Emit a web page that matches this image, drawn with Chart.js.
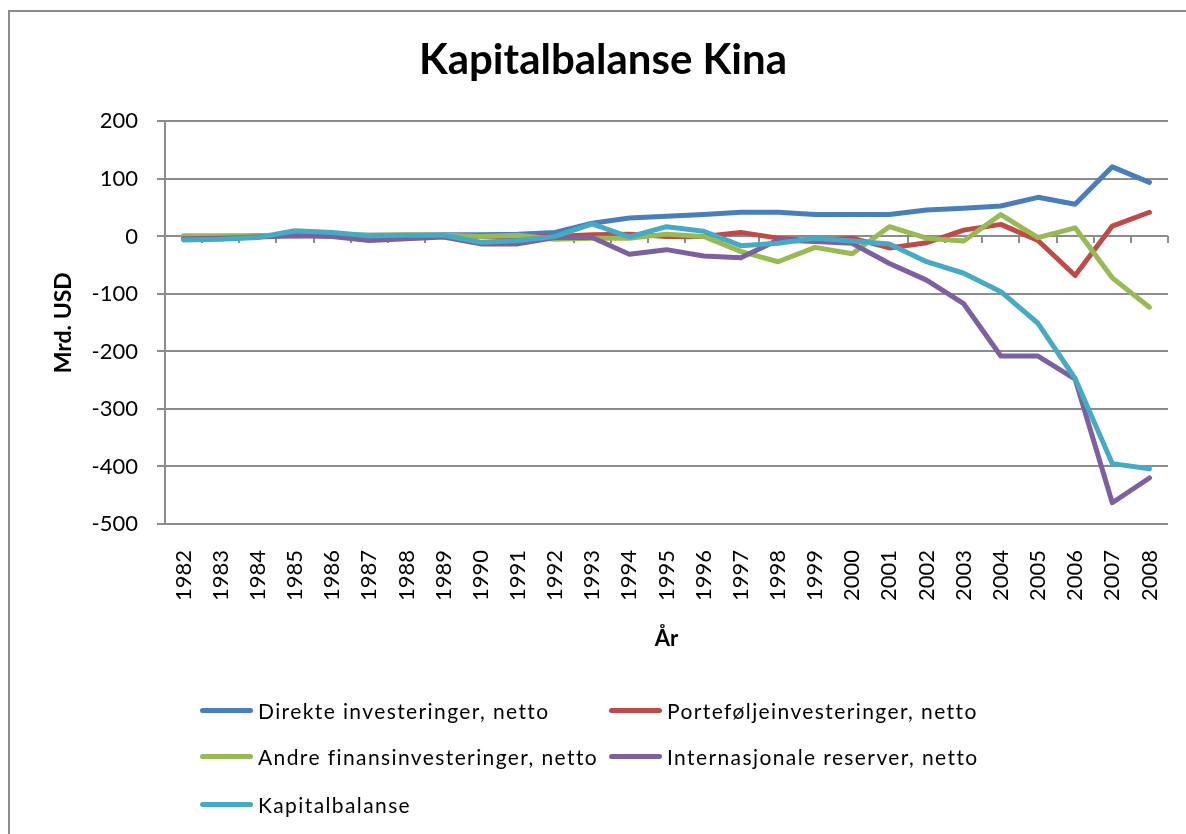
<!DOCTYPE html>
<html lang="no">
<head>
<meta charset="utf-8">
<title>Kapitalbalanse Kina</title>
<script src="https://cdn.jsdelivr.net/npm/chart.js@4.4.1/dist/chart.umd.min.js"></script>
<style>
    html, body {
        margin: 0;
        padding: 0;
        background: #ffffff;
        overflow: hidden;
    }
    #ramme {
        position: relative;
        width: 1186px;
        height: 834px;
    }
    #kant {
        position: absolute;
        left: 8px;
        top: 10px;
        width: 1300px;
        height: 900px;
        border-left: 2px solid #8c8c8c;
        border-top: 2px solid #8c8c8c;
    }
    #graf {
        position: absolute;
        left: 0;
        top: 0;
    }
    .forklaring {
        position: absolute;
        font-family: Lato, "Noto Sans", sans-serif;
        font-size: 21px;
        letter-spacing: 1.4px;
        color: #000;
        line-height: 24px;
        white-space: nowrap;
    }
    .forklaring .strek {
        position: absolute;
        left: 0;
        top: 9px;
        width: 53px;
        height: 5px;
        border-radius: 3px;
    }
    .forklaring .tekst {
        position: absolute;
        left: 58px;
        top: 0;
    }
</style>
</head>
<body>
<div id="ramme">
    <div id="kant"></div>
    <canvas id="graf" width="1186" height="834"></canvas>
    <div id="forklaringer"></div>
</div>
<script>
// årstall og serier (mrd. USD), lest av figuren
const aar = ["1982", "1983", "1984", "1985", "1986", "1987", "1988", "1989", "1990",
    "1991", "1992", "1993", "1994", "1995", "1996", "1997", "1998", "1999", "2000",
    "2001", "2002", "2003", "2004", "2005", "2006", "2007", "2008"];

const direkte = [-1, 0, 1, 1, 2, 2, 2, 3, 3, 4, 7, 23, 32, 35, 38, 42, 42, 38, 38,
    38, 46, 49, 53, 68, 56, 121, 94];
const portefolje = [0, 0, 0, 3, 2, 1, 1, 0, 0, 0, 0, 3, 4, 0, 0, 7, -3, -8, -3,
    -20, -11, 11, 21, -7, -68, 18, 42];
const andre = [1, 1, 1, 2, 3, 2, 3, 2, 0, 2, -5, -3, -3, 4, 0, -26, -44, -19, -30,
    17, -3, -8, 38, -2, 15, -72, -123];
const reserver = [-4, -3, -1, 1, 0, -7, -4, -1, -13, -13, -2, -2, -31, -23, -34, -37,
    -6, -9, -12, -47, -76, -117, -208, -208, -248, -463, -420];
const kapitalbalanse = [-6, -5, -2, 10, 7, 1, 2, 2, -10, -7, 0, 22, -1, 17, 9, -16,
    -12, -3, -8, -13, -44, -64, -96, -151, -247, -395, -404];

const serieNavn = ["Direkte investeringer, netto", "Porteføljeinvesteringer, netto",
    "Andre finansinvesteringer, netto", "Internasjonale reserver, netto", "Kapitalbalanse"];
const farger = ["#4a7ebb", "#be4b48", "#98b954", "#7d60a0", "#46aac5"];

const yMin = -500;
const yMax = 200;
const ySteg = 100;

const strekFarge = "#8c8c8c";
const skrift = "Lato, 'Noto Sans', sans-serif";

// små merker langs nullinja mellom årene, slik Excel tegner kategoriaksen
const nullStreker = {
    id: "nullStreker",
    beforeDatasetsDraw(chart) {
        const x = chart.scales.x;
        const y = chart.scales.y;
        const ctx = chart.ctx;
        const y0 = Math.round(y.getPixelForValue(0));
        const steg = x.getPixelForValue(1) - x.getPixelForValue(0);
        ctx.save();
        ctx.strokeStyle = strekFarge;
        ctx.lineWidth = 2;
        ctx.beginPath();
        for (let i = 0; i <= aar.length; i++) {
            const px = Math.round(x.getPixelForValue(0) - steg / 2 + i * steg);
            ctx.moveTo(px, y0);
            ctx.lineTo(px, y0 + 7);
        }
        ctx.stroke();
        ctx.restore();
    },
};

const verdier = [direkte, portefolje, andre, reserver, kapitalbalanse];
const datasett = verdier.map((v, i) => ({
    label: serieNavn[i],
    data: v,
    borderColor: farger[i],
    backgroundColor: farger[i],
    borderWidth: 5,
    pointRadius: 0,
    tension: 0,
    borderJoinStyle: "round",
    borderCapStyle: "round",
    order: verdier.length - i, // siste serie øverst
}));

const ctx = document.getElementById("graf").getContext("2d");
new Chart(ctx, {
    type: "line",
    data: {
        labels: aar,
        datasets: datasett,
    },
    options: {
        responsive: false,
        animation: false,
        layout: {
            padding: { left: 38, right: 18, top: 0, bottom: 182 },
        },
        plugins: {
            legend: { display: false },
            tooltip: { enabled: false },
            title: {
                display: true,
                text: "Kapitalbalanse Kina",
                color: "#000",
                font: { family: skrift, size: 42, weight: "bold", lineHeight: 1.2 },
                padding: { top: 35, bottom: 36 },
            },
        },
        scales: {
            x: {
                offset: true,
                grid: { display: false, drawTicks: false },
                border: { display: false },
                ticks: {
                    autoSkip: false,
                    minRotation: 90,
                    maxRotation: 90,
                    padding: 26,
                    color: "#000",
                    font: { family: skrift, size: 22 },
                },
                title: {
                    display: true,
                    text: "År",
                    color: "#000",
                    padding: 0,
                    font: { family: skrift, size: 22, weight: "bold", lineHeight: 1.2 },
                },
                afterFit: (scale) => {
                    scale.height = 128;
                    scale.paddingLeft = 0;
                    scale.paddingRight = 0;
                },
            },
            y: {
                min: yMin,
                max: yMax,
                ticks: {
                    stepSize: ySteg,
                    padding: 19,
                    color: "#000",
                    font: { family: skrift, size: 22 },
                },
                grid: {
                    color: strekFarge,
                    lineWidth: 2,
                    tickLength: 8,
                },
                border: { display: true, color: strekFarge, width: 2 },
                title: {
                    display: true,
                    text: "Mrd. USD",
                    color: "#000",
                    padding: { top: 12, bottom: 0 },
                    font: { family: skrift, size: 23, weight: "bold", lineHeight: 1.2 },
                },
                afterFit: (scale) => {
                    scale.width = 127;
                },
            },
        },
    },
    plugins: [nullStreker],
});

// forklaring i to kolonner, som i originalen
const plassering = [
    { x: 200, y: 699 },
    { x: 609, y: 699 },
    { x: 200, y: 745 },
    { x: 609, y: 745 },
    { x: 200, y: 793 },
];
const boks = document.getElementById("forklaringer");
serieNavn.forEach((navn, i) => {
    const el = document.createElement("div");
    el.className = "forklaring";
    el.style.left = plassering[i].x + "px";
    el.style.top = plassering[i].y + "px";
    el.innerHTML = '<span class="strek" style="background:' + farger[i] + '"></span>' +
        '<span class="tekst">' + navn + "</span>";
    boks.appendChild(el);
});
</script>
</body>
</html>
